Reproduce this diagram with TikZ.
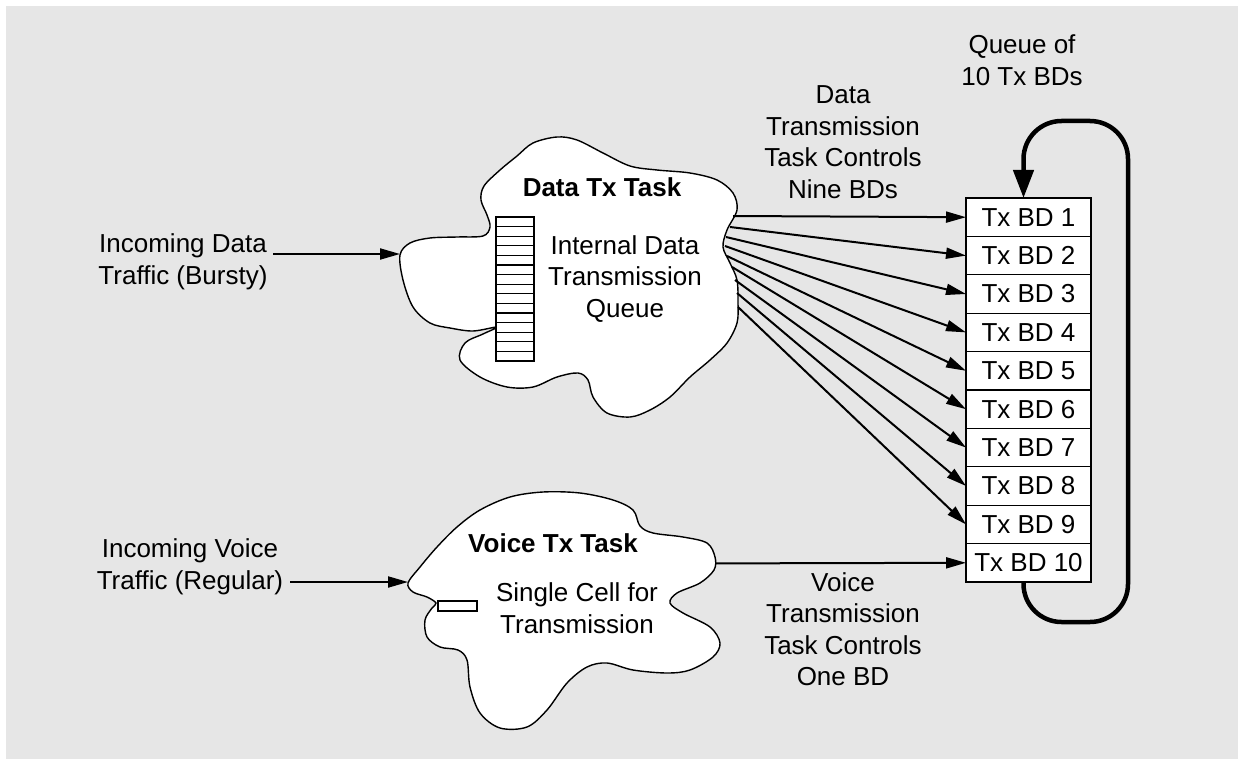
\documentclass[tikz,border=0pt]{standalone}
\usepackage{fontspec}
\setmainfont{Liberation Sans}
\usetikzlibrary{arrows.meta,positioning}
\definecolor{bg}{HTML}{E6E6E6}
\begin{document}
\begin{tikzpicture}[x=1pt,y=-1pt,
  lbl/.style={align=center,font=\fontsize{26}{31.5}\selectfont,inner sep=0pt},
  ttl/.style={font=\fontsize{26}{31.5}\selectfont\bfseries,inner sep=0pt},
  bdbox/.style={draw,fill=white,line width=1.3pt,minimum width=125pt,minimum height=38.4pt,inner sep=0pt,outer sep=0pt,font=\fontsize{26}{31.5}\selectfont},
  arr/.style={line width=2pt,-{Triangle[length=20pt,width=11pt]}},
  cloudshape/.style={draw,fill=white,line width=1.4pt},
  loopline/.style={line width=4.5pt,rounded corners=38pt,-{Triangle[length=28pt,width=20pt]}}
]
\useasboundingbox (0,0) rectangle (1238,759);
\fill[bg] (6,6) rectangle (1238,759);

% Data cloud
\draw[cloudshape] plot[smooth cycle,tension=0.55] coordinates {
 (400,255) (410,243) (430,238) (457,237) (483,236) (490,227) (487,215) (481,200)
 (484,186) (500,170) (517,156) (533,143) (557,137) (577,140) (603,153) (630,166)
 (657,170) (690,173) (717,180) (733,193) (737,210) (727,230) (723,247) (730,263)
 (737,280) (738,303) (737,323) (727,343) (710,360) (690,377) (670,397) (650,410)
 (630,417) (607,413) (593,397) (588,380) (578,373) (557,377) (533,387) (507,387)
 (480,377) (460,360) (465,343) (483,334) (497,327) (473,331) (450,328) (430,323)
 (413,307) (403,280)};

% Voice cloud
\draw[cloudshape] plot[smooth cycle,tension=0.55] coordinates {
 (408,583) (420,567) (437,547) (457,527) (480,510) (510,497) (543,492) (580,493)
 (613,500) (633,510) (640,526) (653,533) (683,537) (707,543) (715,557) (714,570)
 (700,583) (677,593) (670,603) (683,613) (710,627) (720,643) (713,657) (690,670)
 (667,673) (633,670) (607,663) (587,667) (567,683) (547,710) (527,727) (500,728)
 (480,713) (470,687) (467,660) (458,650) (440,647) (427,637) (425,620) (432,608)
 (436,603) (427,597) (413,592)};

% internal queue (15 cells)
\node[draw,fill=white,line width=1.2pt,minimum width=38pt,minimum height=144pt,inner sep=0pt,outer sep=0pt] (q) at (515,289) {};
\foreach \i in {1,...,14}
  \draw[line width=1.2pt] ([yshift=-\i*9.6pt]q.north west) -- ([yshift=-\i*9.6pt]q.north east);

% single cell
\node[draw,fill=white,line width=1.2pt,minimum width=39pt,minimum height=10pt,inner sep=0pt] (cell) at (457.5,606) {};

% texts in clouds
\node[ttl] (dtt) at (602,187) {Data Tx Task};
\node[lbl] (dq) at (625,279) {Internal Data\\Transmission\\Queue};
\node[ttl] (vtt) at (553,543) {Voice Tx Task};
\node[lbl] (vc) at (577,608) {Single Cell for\\Transmission};

% BD stack
\node[bdbox] (bd1) at (1028.5,217.2) {Tx BD 1};
\foreach \i [remember=\i as \j (initially 1)] in {2,...,10}
  \node[bdbox,below=0pt of bd\j] (bd\i) {Tx BD \i};

% labels
\node[lbl] (qlab) at (1022,60) {Queue of\\10 Tx BDs};
\node[lbl] (dlab) at (843,142) {Data\\Transmission\\Task Controls\\Nine BDs};
\node[lbl] (vlab) at (843,629) {Voice\\Transmission\\Task Controls\\One BD};
\node[lbl] (din) at (183,262) {Incoming Data\\Traffic (Bursty)};
\node[lbl] (vin) at (190,567) {Incoming Voice\\Traffic (Regular)};

% connector coordinates
\coordinate (dinS) at (273,254);
\coordinate (dinE) at (400,254);
\coordinate (vinS) at (290,582);
\coordinate (vinE) at (408,582);
\coordinate (d1) at (733,216);
\coordinate (d2) at (730,227);
\coordinate (d3) at (726,237);
\coordinate (d4) at (725,246);
\coordinate (d5) at (727,256);
\coordinate (d6) at (732,267);
\coordinate (d7) at (735,280);
\coordinate (d8) at (737,293);
\coordinate (d9) at (738,307);
\coordinate (vS) at (715,563.4);

\draw[arr] (dinS) -- (dinE);
\draw[arr] (vinS) -- (vinE);
\foreach \i in {1,...,9}
  \draw[arr] (d\i) -- (bd\i.west);
\draw[arr] (vS) -- (bd10.west);

% loop
\draw[loopline] ([xshift=-5pt]bd10.south) -- ([xshift=-5pt]bd10.south |- 0,622) -- (1128,622) -- (1128,121) -- ([xshift=-5pt]bd1.north |- 0,121) -- ([xshift=-5pt]bd1.north);
\end{tikzpicture}
\end{document}
